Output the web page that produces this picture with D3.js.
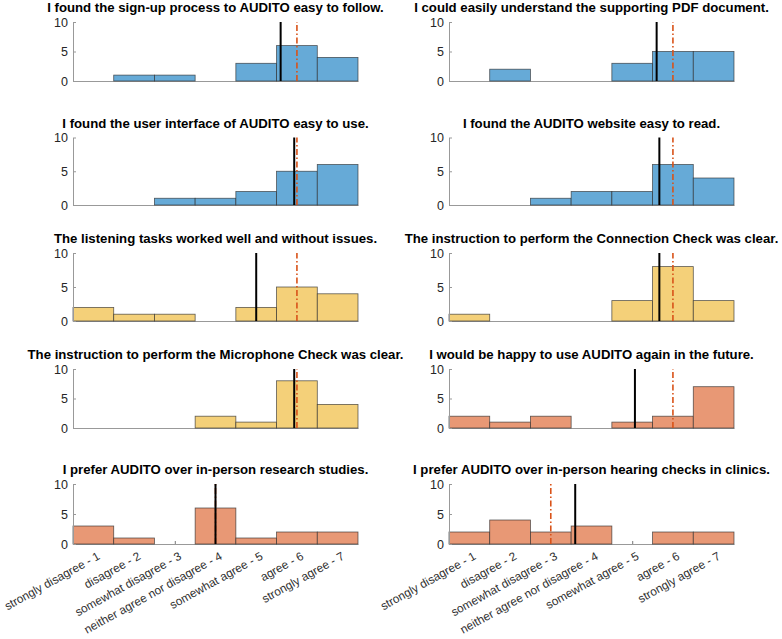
<!DOCTYPE html>
<html>
<head>
<meta charset="utf-8">
<script src="https://cdn.jsdelivr.net/npm/d3@7"></script>
<style>
  body { margin: 0; background: #fff; }
  svg { display: block; font-family: "Liberation Sans", Arial, Helvetica, sans-serif; }
</style>
</head>
<body>
<div id="chart"></div>
<script>
// answer levels (x categories)
const levels = ["strongly disagree - 1", "disagree - 2", "somewhat disagree - 3",
  "neither agree nor disagree - 4", "somewhat agree - 5", "agree - 6", "strongly agree - 7"];

const titles = [
  "I found the sign-up process to AUDITO easy to follow.",
  "I could easily understand the supporting PDF document.",
  "I found the user interface of AUDITO easy to use.",
  "I found the AUDITO website easy to read.",
  "The listening tasks worked well and without issues.",
  "The instruction to perform the Connection Check was clear.",
  "The instruction to perform the Microphone Check was clear.",
  "I would be happy to use AUDITO again in the future.",
  "I prefer AUDITO over in-person research studies.",
  "I prefer AUDITO over in-person hearing checks in clinics."
];

// number of answers per level, one list per question
const counts = [
  [0, 1, 1, 0, 3, 6, 4],
  [0, 2, 0, 0, 3, 5, 5],
  [0, 0, 1, 1, 2, 5, 6],
  [0, 0, 1, 2, 2, 6, 4],
  [2, 1, 1, 0, 2, 5, 4],
  [1, 0, 0, 0, 3, 8, 3],
  [0, 0, 0, 2, 1, 8, 4],
  [2, 1, 2, 0, 1, 2, 7],
  [3, 1, 0, 6, 1, 2, 2],
  [2, 4, 2, 3, 0, 2, 2]
];

const groups = ["blue", "blue", "blue", "blue", "yellow", "yellow", "yellow", "orange", "orange", "orange"];
const yTicks = [0, 5, 10];

(() => {
  const W = 782, H = 639;
  const fills = { blue: "#66aad7", yellow: "#f4d079", orange: "#e89875" };
  const colX = [73, 449], plotW = 285;
  const rowTop = [22, 137.5, 253, 369, 484], rowBot = [81, 205, 321, 428, 544];

  const svg = d3.select("#chart").append("svg")
    .attr("width", W).attr("height", H);

  counts.forEach((cnt, k) => {
    const col = k % 2, row = Math.floor(k / 2);
    const x = d3.scaleLinear().domain([0.5, 7.5]).range([colX[col], colX[col] + plotW]);
    const y = d3.scaleLinear().domain([0, 10]).range([rowBot[row], rowTop[row]]);
    const g = svg.append("g");

    // expand counts to individual answers for mean / median
    const answers = cnt.flatMap((c, i) => d3.range(c).map(() => i + 1));
    const mean = d3.mean(answers), median = d3.median(answers);

    // x axis
    const isBottom = row === 4;
    const xa = g.append("g")
      .attr("transform", `translate(0,${rowBot[row]})`)
      .call(d3.axisBottom(x)
        .tickValues(isBottom ? d3.range(1, 8) : [])
        .tickSizeInner(-3).tickSizeOuter(0)
        .tickFormat(d => levels[d - 1]));
    xa.select(".domain").attr("stroke", "#999");
    xa.selectAll(".tick line").attr("stroke", "#777");
    xa.selectAll("text")
      .attr("x", 0).attr("y", 0)
      .attr("dy", "0.35em")
      .attr("text-anchor", "end")
      .attr("transform", "translate(5,11) rotate(-29)")
      .attr("fill", "#303030")
      .style("font-size", "11.8px");

    // bars
    g.selectAll("rect")
      .data(cnt.map((c, i) => ({ c, i })).filter(d => d.c > 0))
      .enter().append("rect")
      .attr("x", d => x(d.i + 0.5))
      .attr("y", d => y(d.c))
      .attr("width", d => x(d.i + 1.5) - x(d.i + 0.5))
      .attr("height", d => y(0) - y(d.c))
      .attr("fill", fills[groups[k]])
      .attr("stroke", "#2a2a2a")
      .attr("stroke-opacity", 0.75)
      .attr("stroke-width", 0.8);

    // y axis
    const ya = g.append("g")
      .attr("transform", `translate(${colX[col]},0)`)
      .call(d3.axisLeft(y).tickValues(yTicks).tickSizeInner(-3).tickSizeOuter(0).tickPadding(5));
    ya.select(".domain").attr("stroke", "#999");
    ya.selectAll(".tick line").attr("stroke", "#999");
    ya.selectAll("text").attr("fill", "#262626").style("font-size", "12.5px");

    // median (dash-dot) and mean (solid)
    g.append("line")
      .attr("x1", x(median)).attr("x2", x(median))
      .attr("y1", y(0)).attr("y2", y(10))
      .attr("stroke", "#d95319").attr("stroke-width", 1.6)
      .attr("stroke-dasharray", "6,2.5,1.5,2.5");
    g.append("line")
      .attr("x1", x(mean)).attr("x2", x(mean))
      .attr("y1", y(0)).attr("y2", y(10))
      .attr("stroke", "#000").attr("stroke-width", 2);

    // title
    g.append("text")
      .attr("x", colX[col] + plotW / 2)
      .attr("y", rowTop[row] - 10)
      .attr("text-anchor", "middle")
      .attr("font-weight", "bold")
      .style("font-size", "13.2px")
      .attr("fill", "#000")
      .text(titles[k]);
  });
})();
</script>
</body>
</html>
